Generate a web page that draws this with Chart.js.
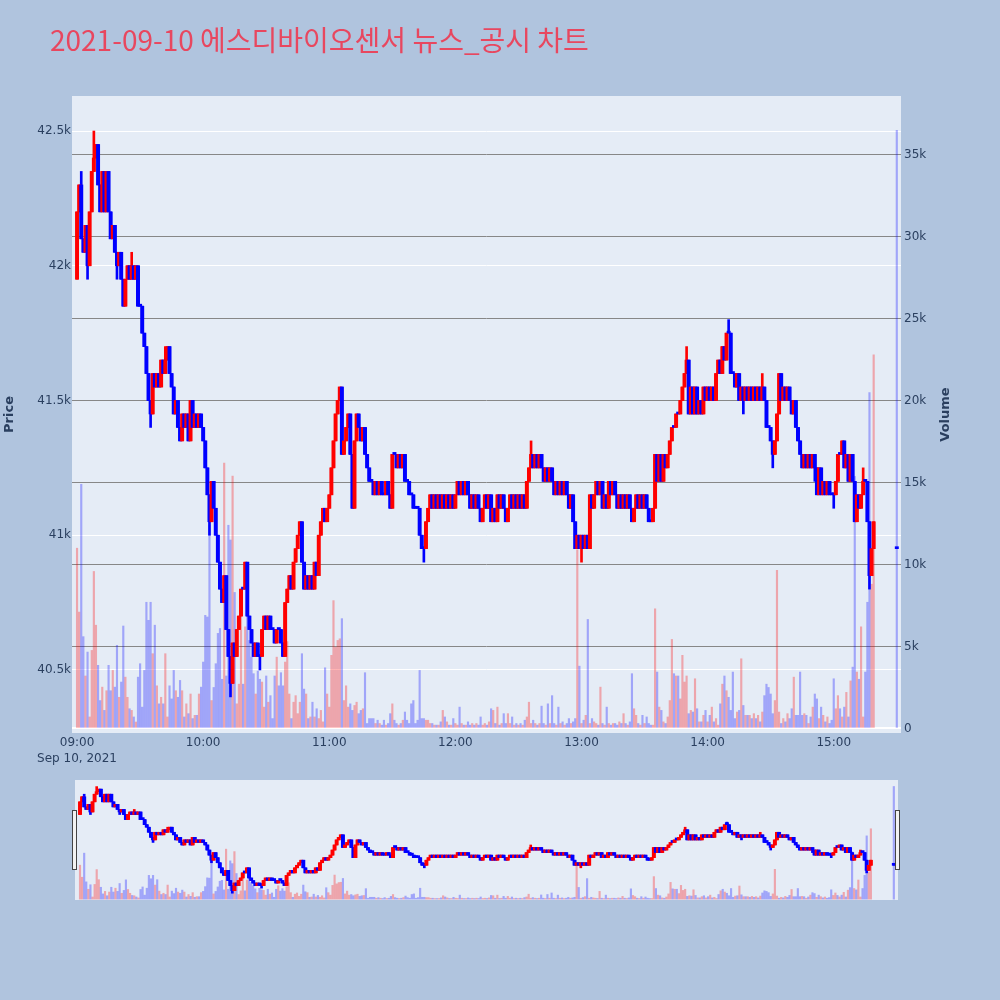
<!DOCTYPE html>
<html lang="ko">
  <head>
    <meta charset="UTF-8" />
    <title>2021-09-10 에스디바이오센서 뉴스_공시 차트</title>
    <script src="https://cdn.jsdelivr.net/npm/chart.js"></script>
    <style>
      body { margin: 0; background: #b0c4de; }
      #wrap { position: relative; width: 1000px; height: 1000px; }
      #main { position: absolute; left: 0; top: 0; }
      #slider { position: absolute; left: 75px; top: 780px; background: #e5ecf6; }
      .grip { position: absolute; top: 810px; width: 3px; height: 58px; background: #f2f2f2; border: 1px solid #444; }
    </style>
  </head>
  <body>
    <div id="wrap">
      <canvas id="main" width="1000" height="780"></canvas>
      <canvas id="slider" width="823" height="120"></canvas>
      <div class="grip" style="left: 72px"></div>
      <div class="grip" style="left: 895px"></div>
    </div>

    <script>
      // data (one candle per minute from 09:00, plus the 15:30 closing auction)
      const chartTitle = "2021-09-10 에스디바이오센서 뉴스_공시 차트";
      const dateLabel = "Sep 10, 2021";
      const firstOpen = 41950;

      const closes = [
        42200, 42300, 42100, 42050, 42150, 42000, 42200, 42350, 42400, 42450,
        42300, 42200, 42350, 42200, 42350, 42200, 42100, 42150, 42050, 42000,
        42050, 41950, 41850, 41950, 42000, 41950, 42000, 41950, 42000, 41850,
        41850, 41750, 41700, 41600, 41500, 41450, 41600, 41550, 41600, 41550,
        41650, 41600, 41650, 41700, 41600, 41550, 41450, 41500, 41400, 41350,
        41450, 41400, 41450, 41350, 41500, 41400, 41450, 41400, 41450, 41400,
        41350, 41250, 41150, 41050, 41200, 41100, 41000, 40900, 40800, 40750,
        40850, 40650, 40550, 40450, 40600, 40550, 40650, 40700, 40800, 40800,
        40900, 40700, 40650, 40600, 40550, 40600, 40550, 40550, 40650, 40700,
        40650, 40700, 40650, 40650, 40600, 40650, 40650, 40600, 40550, 40750,
        40800, 40850, 40800, 40900, 40950, 41000, 41050, 40900, 40800, 40850,
        40800, 40850, 40800, 40900, 40850, 41000, 41050, 41100, 41050, 41100,
        41150, 41250, 41350, 41450, 41500, 41550, 41300, 41350, 41400, 41450,
        41300, 41100, 41350, 41450, 41400, 41350, 41400, 41300, 41250, 41200,
        41200, 41150, 41200, 41150, 41200, 41150, 41150, 41200, 41150, 41100,
        41300, 41300, 41250, 41300, 41250, 41300, 41200, 41200, 41150, 41150,
        41100, 41100, 41100, 41000, 40950, 40950, 41050, 41100, 41150, 41100,
        41150, 41100, 41150, 41100, 41150, 41100, 41150, 41100, 41150, 41100,
        41150, 41200, 41150, 41200, 41150, 41200, 41150, 41100, 41150, 41100,
        41150, 41100, 41050, 41100, 41150, 41100, 41150, 41050, 41100, 41050,
        41150, 41100, 41150, 41100, 41050, 41100, 41150, 41100, 41150, 41100,
        41150, 41100, 41150, 41100, 41200, 41250, 41300, 41250, 41300, 41250,
        41300, 41250, 41200, 41250, 41200, 41250, 41200, 41150, 41200, 41150,
        41200, 41150, 41200, 41150, 41100, 41150, 41050, 40950, 41000, 40950,
        41000, 40950, 41000, 40950, 41150, 41100, 41150, 41200, 41150, 41200,
        41100, 41150, 41100, 41200, 41150, 41200, 41150, 41100, 41150, 41100,
        41150, 41100, 41150, 41100, 41050, 41100, 41150, 41100, 41150, 41100,
        41150, 41100, 41050, 41050, 41100, 41300, 41200, 41300, 41200, 41300,
        41250, 41300, 41350, 41400, 41400, 41450, 41450, 41500, 41550, 41600,
        41650, 41450, 41550, 41450, 41550, 41450, 41500, 41450, 41550, 41500,
        41550, 41500, 41550, 41500, 41600, 41650, 41600, 41700, 41650, 41750,
        41750, 41600, 41600, 41550, 41600, 41500, 41550, 41500, 41550, 41500,
        41550, 41500, 41550, 41500, 41550, 41500, 41550, 41500, 41400, 41400,
        41350, 41300, 41350, 41450, 41600, 41500, 41550, 41500, 41550, 41500,
        41450, 41500, 41400, 41350, 41300, 41250, 41300, 41250, 41300, 41250,
        41300, 41250, 41150, 41250, 41150, 41200, 41150, 41200, 41150, 41150,
        41150, 41200, 41300, 41300, 41350, 41250, 41300, 41200, 41300, 41200,
        41050, 41150, 41100, 41150, 41200, 41200, 41050, 40850, 40950, 41050
      ];

      const volumes = [
        11000, 7100, 14900, 5600, 3200, 4660, 700, 4760, 9580, 6300,
        3850, 1700, 2520, 1100, 2300, 3850, 2300, 3540, 2520, 5070,
        1900, 2830, 6250, 3130, 1900, 1200, 1100, 700, 390, 3130,
        3950, 1300, 3540, 7700, 6600, 7700, 4560, 6300, 2600, 1500,
        1900, 1500, 4560, 700, 2600, 1800, 3540, 2300, 1900, 2930,
        2300, 700, 1500, 900, 2100, 600, 800, 800, 2100, 2520,
        4050, 6900, 6800, 12400, 1700, 2500, 3950, 5800, 6100, 3000,
        16200, 3200, 12400, 11500, 15400, 8300, 1500, 2700, 8000, 2700,
        6200, 7000, 5370, 4350, 3340, 2100, 3500, 3000, 2830, 1300,
        3200, 1600, 2000, 600, 3200, 4350, 2600, 3400, 2600, 4050,
        5300, 2100, 600, 1600, 2000, 900, 1600, 4560, 2400, 2100,
        600, 700, 1600, 700, 1200, 600, 1100, 400, 3700, 2100,
        1300, 4460, 7800, 4950, 5370, 5470, 6700, 1700, 2600, 1300,
        1500, 1100, 1400, 1600, 900, 1100, 1200, 3400, 300, 600,
        600, 600, 300, 500, 300, 200, 500, 200, 300, 900,
        1500, 500, 300, 200, 300, 500, 1000, 500, 300, 1500,
        1700, 300, 500, 3540, 600, 600, 500, 500, 300, 300,
        200, 200, 200, 400, 1100, 700, 400, 200, 200, 600,
        300, 200, 1300, 300, 200, 200, 400, 200, 300, 200,
        300, 200, 700, 200, 300, 200, 400, 1200, 1100, 300,
        1300, 200, 300, 900, 300, 900, 300, 700, 200, 300,
        200, 300, 200, 500, 700, 1600, 300, 500, 300, 200,
        300, 1360, 300, 200, 1500, 300, 2000, 300, 200, 1300,
        300, 400, 200, 300, 600, 300, 400, 600, 10900, 3800,
        300, 500, 800, 6650, 300, 600, 400, 300, 200, 2520,
        300, 200, 1300, 300, 200, 300, 300, 200, 400, 300,
        900, 300, 200, 400, 3340, 1200, 800, 300, 200, 800,
        300, 700, 300, 200, 200, 7300, 3440, 1300, 1100, 400,
        300, 700, 1700, 5430, 3340, 3200, 3200, 1800, 4460, 2830,
        3200, 900, 1100, 1000, 3030, 1200, 400, 400, 800, 1100,
        400, 800, 1300, 400, 600, 200, 1500, 2700, 3200, 2300,
        1900, 1100, 3440, 600, 1000, 1100, 4250, 1400, 800, 800,
        800, 600, 900, 600, 800, 400, 1000, 2000, 2700, 2500,
        2100, 900, 1700, 9650, 1000, 300, 600, 400, 900, 600,
        1200, 3130, 800, 800, 3440, 800, 900, 800, 300, 700,
        1300, 2100, 1800, 600, 1300, 800, 400, 700, 300, 500,
        3030, 1200, 2000, 1200, 700, 1300, 2200, 700, 2900, 3740,
        15380, 3440, 3000, 6200, 700, 3440, 7700, 20500, 8800, 22800
      ];

      // wick tips that reach past the candle body: [minute, price]
      const highWicks = [
        [2, 42350], [8, 42500], [26, 42050], [42, 41700], [126, 41550],
        [216, 41350], [290, 41700], [310, 41800], [326, 41600], [364, 41350], [374, 41250]
      ];
      const lowWicks = [
        [5, 41950], [19, 41950], [35, 41400], [63, 41000], [73, 40400], [87, 40500],
        [165, 40900], [240, 40900], [317, 41450], [331, 41250], [351, 41200],
        [360, 41100], [377, 40800]
      ];

      // 15:30 closing auction
      const closingMinute = 390;
      const closingPrice = 40950;
      const closingVolume = 36500;

      const timeTicks = [0, 60, 120, 180, 240, 300, 360];
      const priceTicks = [40500, 41000, 41500, 42000, 42500];
      const volumeTicks = [0, 5000, 10000, 15000, 20000, 25000, 30000, 35000];

      // setup
      const UP = "#ff0000";
      const DOWN = "#0000ff";

      const candles = closes.map((c, i) => {
        const o = i === 0 ? firstOpen : closes[i - 1];
        return { x: i, o: o, c: c, h: Math.max(o, c), l: Math.min(o, c), v: volumes[i] };
      });
      highWicks.forEach(([m, p]) => (candles[m].h = Math.max(candles[m].h, p)));
      lowWicks.forEach(([m, p]) => (candles[m].l = Math.min(candles[m].l, p)));
      candles.push({ x: closingMinute, o: closingPrice, c: closingPrice, h: closingPrice, l: closingPrice, v: closingVolume });

      const candleColors = candles.map((k) => (k.c > k.o ? UP : DOWN));
      const volumeColors = candles.map((k) => (k.c > k.o ? "rgba(255,0,0,0.3)" : "rgba(0,0,255,0.3)"));

      function makeDatasets() {
        return [
          {
            label: "Volume",
            yAxisID: "y1",
            order: 2,
            grouped: false,
            barThickness: 1.5,
            backgroundColor: volumeColors,
            data: candles.map((k) => ({ x: k.x, y: k.v }))
          },
          {
            label: "wick",
            yAxisID: "y",
            order: 1,
            grouped: false,
            barThickness: 2,
            backgroundColor: candleColors,
            data: candles.map((k) => ({ x: k.x, y: [k.l, k.h] }))
          },
          {
            label: "Price",
            yAxisID: "y",
            order: 0,
            grouped: false,
            barThickness: 3.3,
            minBarLength: 2,
            backgroundColor: candleColors,
            data: candles.map((k) => ({ x: k.x, y: [k.o, k.c] }))
          }
        ];
      }

      const xMin = -2.4;
      const xMax = 392;
      const priceMin = 40266;
      const priceMax = 42630;
      const volMin = -280;
      const volMax = 38600;

      function hhmm(m) {
        const h = 9 + Math.floor(m / 60);
        const mm = m % 60;
        return String(h).padStart(2, "0") + ":" + String(mm).padStart(2, "0");
      }

      Chart.defaults.font.family = '"DejaVu Sans", "Noto Sans CJK KR", sans-serif';
      Chart.defaults.font.size = 12;
      Chart.defaults.color = "#2a3f5f";

      const plotBg = {
        id: "plotBg",
        beforeDraw(chart) {
          const a = chart.chartArea;
          const ctx = chart.ctx;
          ctx.save();
          ctx.fillStyle = "#e5ecf6";
          ctx.fillRect(a.left, a.top, a.right - a.left, a.bottom - a.top);
          ctx.restore();
        }
      };

      const texts = {
        id: "texts",
        afterDraw(chart) {
          const ctx = chart.ctx;
          ctx.save();
          ctx.fillStyle = "#e8475f";
          ctx.font = '28px "Noto Sans CJK KR", "DejaVu Sans", sans-serif';
          ctx.textBaseline = "alphabetic";
          ctx.fillText(chartTitle, 50, 51);
          ctx.translate(946, 414.5);
          ctx.rotate(-Math.PI / 2);
          ctx.fillStyle = "#2a3f5f";
          ctx.font = 'bold 13px "DejaVu Sans", sans-serif';
          ctx.textAlign = "center";
          ctx.textBaseline = "middle";
          ctx.fillText("Volume", 0, 0);
          ctx.restore();
        }
      };

      const mainChart = new Chart(document.getElementById("main"), {
        type: "bar",
        data: { datasets: makeDatasets() },
        options: {
          responsive: false,
          animation: false,
          events: [],
          layout: { padding: { top: 96, left: 0, right: 0, bottom: 0 } },
          plugins: { legend: { display: false }, tooltip: { enabled: false } },
          scales: {
            x: {
              type: "linear",
              min: xMin,
              max: xMax,
              offset: false,
              grid: { display: false, drawTicks: false },
              border: { display: false },
              afterBuildTicks: (s) => { s.ticks = timeTicks.map((v) => ({ value: v })); },
              afterFit: (s) => { s.height = 47; },
              ticks: {
                autoSkip: false,
                maxRotation: 0,
                padding: 2,
                font: { size: 12, lineHeight: 1.35 },
                callback: (v) => (v === 0 ? [hhmm(v), dateLabel] : hhmm(v))
              }
            },
            y: {
              position: "left",
              min: priceMin,
              max: priceMax,
              grid: { color: "#ffffff", lineWidth: 1, drawTicks: false },
              border: { display: false },
              afterBuildTicks: (s) => { s.ticks = priceTicks.map((v) => ({ value: v })); },
              afterFit: (s) => { s.width = 72; },
              ticks: { padding: 1, callback: (v) => v / 1000 + "k" },
              title: {
                display: true,
                text: "Price",
                color: "#2a3f5f",
                font: { size: 13, weight: "bold" },
                padding: { top: 2, bottom: 0 }
              }
            },
            y1: {
              position: "right",
              min: volMin,
              max: volMax,
              grid: {
                drawTicks: false,
                color: (c) => (c.tick && c.tick.value === 0 ? "#ffffff" : "rgb(135,135,135)"),
                lineWidth: (c) => (c.tick && c.tick.value === 0 ? 2 : 1)
              },
              border: { display: false },
              afterBuildTicks: (s) => { s.ticks = volumeTicks.map((v) => ({ value: v })); },
              afterFit: (s) => { s.width = 99; },
              ticks: { padding: 3, callback: (v) => (v === 0 ? "0" : v / 1000 + "k") }
            }
          }
        },
        plugins: [plotBg, texts]
      });

      // range slider preview
      const sliderChart = new Chart(document.getElementById("slider"), {
        type: "bar",
        data: { datasets: makeDatasets() },
        options: {
          responsive: false,
          animation: false,
          events: [],
          layout: { padding: 0 },
          plugins: { legend: { display: false }, tooltip: { enabled: false } },
          scales: {
            x: { type: "linear", display: false, min: xMin, max: xMax, offset: false },
            y: { display: false, min: priceMin, max: priceMax },
            y1: { display: false, position: "right", min: volMin, max: volMax }
          }
        }
      });
    </script>
  </body>
</html>
